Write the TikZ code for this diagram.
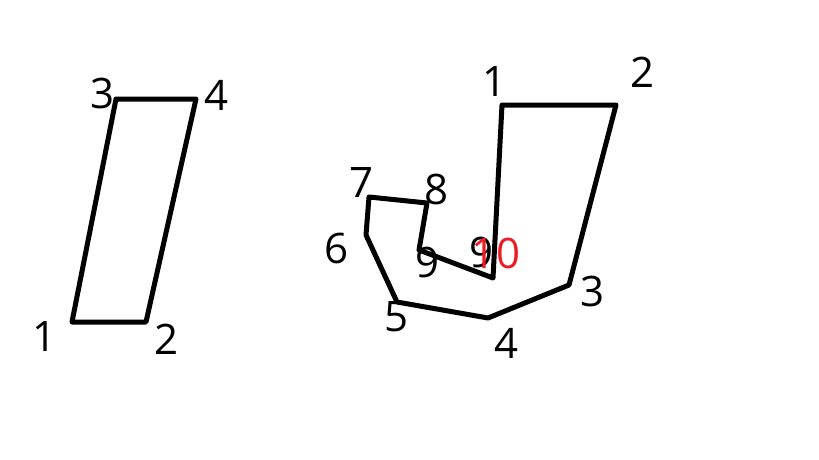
\documentclass[tikz,border=0pt]{standalone}
\usepackage{fontspec}
\setmainfont{Open Sans}
\definecolor{paintred}{RGB}{237,28,36}
\begin{document}
\begin{tikzpicture}[x=1pt,y=-1pt,
  edge/.style={line width=5pt,line join=round,line cap=round},
  lab/.style={inner sep=0pt,font=\fontsize{42}{42}\selectfont},
  redlab/.style={lab,text=paintred}]
\useasboundingbox[fill=white] (0,0) rectangle (819,460);
% left quadrilateral
\coordinate (a1) at (72,322);
\coordinate (a2) at (146,322);
\coordinate (a4) at (196,99);
\coordinate (a3) at (116,99);
\draw[edge] (a3) -- (a4) -- (a2) -- (a1) -- cycle;
\node[lab] (la1) at (45,337) {1};
\node[lab] (la2) at (167,339) {2};
\node[lab] (la3) at (103,93) {3};
\node[lab] (la4) at (217,95) {4};
% right polygon
\coordinate (b1) at (502,105);
\coordinate (b2) at (616,105);
\coordinate (b3) at (569,285);
\coordinate (b4) at (488,318);
\coordinate (b5) at (397,302);
\coordinate (b6) at (366,235);
\coordinate (b7) at (369,197);
\coordinate (b8) at (427,203);
\coordinate (b9) at (419,250);
\coordinate (b10) at (493,278);
\draw[edge] (b1) -- (b2) -- (b3) -- (b4) -- (b5) -- (b6) -- (b7) -- (b8) -- (b9) -- (b10) -- cycle;
\node[lab] (lb1) at (495,82) {1};
\node[lab] (lb2) at (642,72) {2};
\node[lab] (lb3) at (592,291) {3};
\node[lab] (lb4) at (507,343) {4};
\node[lab] (lb5) at (397,317) {5};
\node[lab] (lb6) at (337,248) {6};
\node[lab] (lb7) at (362,183) {7};
\node[lab] (lb8) at (437,189) {8};
\node[lab] (lb9) at (428,262) {9};
\node[lab] (lb9b) at (482,252) {9};
\node[redlab] (lb10) at (496,253) {10};
\end{tikzpicture}
\end{document}
